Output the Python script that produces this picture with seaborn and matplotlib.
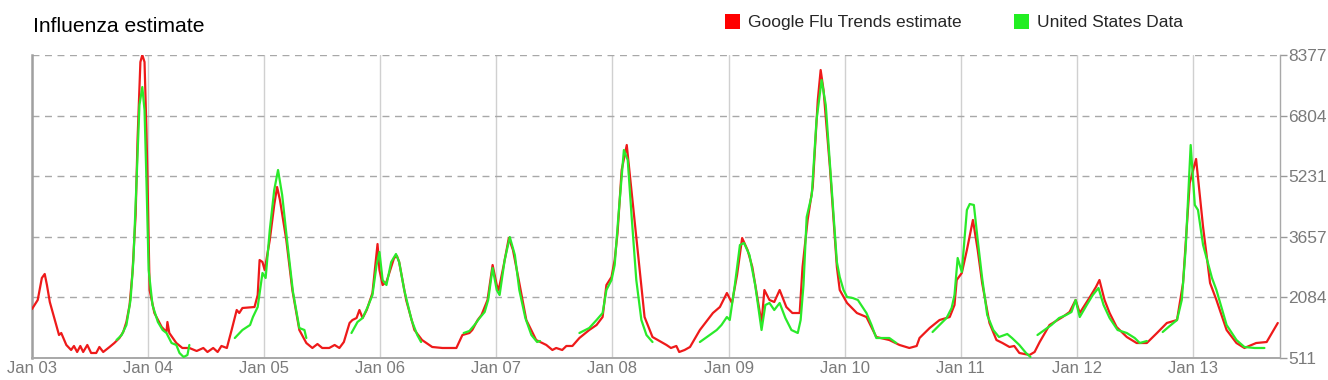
import matplotlib
matplotlib.use("Agg")
import matplotlib.pyplot as plt
import matplotlib.dates as mdates
from matplotlib.patches import Patch
import seaborn as sns
import pandas as pd

# ---------------- data ----------------
gft_dates = [
    "2003-01-01", "2003-01-19", "2003-02-01", "2003-02-10", "2003-02-17", "2003-02-26", "2003-03-12", "2003-03-27",
    "2003-04-03", "2003-04-19", "2003-05-04", "2003-05-13", "2003-05-23", "2003-06-02", "2003-06-11", "2003-06-24",
    "2003-07-06", "2003-07-22", "2003-08-01", "2003-08-13", "2003-09-02", "2003-09-17", "2003-10-03", "2003-10-15",
    "2003-10-25", "2003-11-04", "2003-11-13", "2003-11-23", "2003-11-29", "2003-12-08", "2003-12-14", "2003-12-21",
    "2003-12-27", "2003-12-30", "2004-01-06", "2004-01-21", "2004-02-13", "2004-02-28", "2004-03-02", "2004-03-08",
    "2004-03-30", "2004-04-18", "2004-05-10", "2004-06-02", "2004-06-23", "2004-07-06", "2004-07-24", "2004-08-07",
    "2004-08-19", "2004-09-05", "2004-09-20", "2004-10-06", "2004-10-14", "2004-10-24", "2004-12-01", "2004-12-11",
    "2004-12-17", "2004-12-26", "2005-01-02", "2005-01-18", "2005-02-01", "2005-02-10", "2005-02-19", "2005-03-11",
    "2005-03-30", "2005-04-21", "2005-05-13", "2005-06-01", "2005-06-17", "2005-07-02", "2005-07-24", "2005-08-10",
    "2005-08-25", "2005-09-08", "2005-09-26", "2005-10-05", "2005-10-18", "2005-10-27", "2005-11-06", "2005-11-19",
    "2005-12-07", "2005-12-17", "2005-12-23", "2005-12-29", "2006-01-08", "2006-01-20", "2006-02-01", "2006-02-13",
    "2006-02-22", "2006-03-01", "2006-03-23", "2006-04-18", "2006-05-12", "2006-06-13", "2006-07-15", "2006-08-05",
    "2006-08-28", "2006-09-16", "2006-10-08", "2006-10-17", "2006-11-03", "2006-11-15", "2006-12-04", "2006-12-20",
    "2007-01-02", "2007-01-08", "2007-01-24", "2007-02-09", "2007-02-22", "2007-03-14", "2007-04-05", "2007-05-06",
    "2007-06-07", "2007-06-26", "2007-07-08", "2007-07-27", "2007-08-09", "2007-08-28", "2007-09-19", "2007-10-20",
    "2007-11-12", "2007-12-01", "2007-12-13", "2007-12-29", "2008-01-08", "2008-01-17", "2008-01-30", "2008-02-15",
    "2008-03-04", "2008-03-26", "2008-04-11", "2008-05-06", "2008-06-19", "2008-07-03", "2008-07-20", "2008-07-29",
    "2008-08-15", "2008-09-01", "2008-10-02", "2008-11-12", "2008-12-04", "2008-12-26", "2009-01-11", "2009-01-27",
    "2009-02-12", "2009-03-01", "2009-03-16", "2009-04-14", "2009-04-23", "2009-05-09", "2009-05-24", "2009-06-10",
    "2009-07-01", "2009-07-20", "2009-08-12", "2009-08-21", "2009-09-06", "2009-09-22", "2009-10-08", "2009-10-17",
    "2009-10-26", "2009-11-15", "2009-12-07", "2009-12-16", "2010-01-08", "2010-02-08", "2010-03-10", "2010-04-10",
    "2010-05-21", "2010-06-22", "2010-07-23", "2010-08-15", "2010-08-24", "2010-09-25", "2010-10-26", "2010-11-27",
    "2010-12-12", "2010-12-19", "2011-01-04", "2011-01-20", "2011-02-08", "2011-02-23", "2011-03-09", "2011-04-01",
    "2011-04-23", "2011-05-12", "2011-06-03", "2011-06-18", "2011-07-04", "2011-08-05", "2011-08-21", "2011-09-06",
    "2011-10-07", "2011-11-17", "2011-12-09", "2011-12-28", "2012-01-10", "2012-02-11", "2012-03-01", "2012-03-12",
    "2012-03-28", "2012-04-13", "2012-05-05", "2012-06-06", "2012-07-07", "2012-08-08", "2012-09-09", "2012-10-10",
    "2012-11-11", "2012-11-30", "2012-12-21", "2013-01-10", "2013-02-01", "2013-02-23", "2013-03-15", "2013-04-16",
    "2013-05-17", "2013-06-11", "2013-07-18", "2013-08-20", "2013-09-24",
]
gft_values = [
    1783, 2017, 2588, 2692, 2406, 1965, 1549, 1108,
    1160, 849, 719, 823, 667, 823, 667, 849,
    641, 641, 797, 667, 797, 900, 1030, 1186,
    1446, 1887, 2718, 4223, 6170, 8195, 8377, 8195,
    6430, 5314, 2276, 1679, 1316, 1186, 1446, 1160,
    900, 771, 771, 693, 771, 667, 771, 667,
    823, 771, 1238, 1757, 1679, 1809, 1835, 2146,
    3055, 3003, 2795, 3574, 4483, 4950, 4613, 3574,
    2276, 1238, 900, 771, 874, 771, 771, 849,
    771, 926, 1420, 1497, 1549, 1757, 1549, 1757,
    2198, 3003, 3470, 2795, 2406, 2484, 2795, 3107,
    3159, 3003, 2017, 1238, 978, 797, 771, 771,
    771, 1108, 1160, 1238, 1497, 1627, 2017, 2925,
    2406, 2276, 2925, 3626, 3315, 2458, 1497, 978,
    849, 719, 771, 719, 823, 823, 1030, 1238,
    1368, 1575, 2406, 2614, 3055, 3756, 5391, 6040,
    4613, 2873, 1575, 1056, 849, 771, 823, 667,
    719, 797, 1238, 1679, 1835, 2198, 1939, 2666,
    3626, 3315, 2873, 1420, 2276, 2017, 1965, 2276,
    1835, 1679, 1679, 2873, 4094, 4950, 7209, 7987,
    7468, 5470, 2873, 2276, 1939, 1679, 1575, 1056,
    978, 849, 771, 823, 1030, 1290, 1497, 1575,
    1887, 2536, 2718, 3315, 4094, 3315, 2458, 1420,
    978, 900, 797, 823, 641, 589, 667, 926,
    1368, 1575, 1705, 2017, 1679, 2094, 2354, 2536,
    2017, 1679, 1316, 1056, 900, 900, 1160, 1420,
    1497, 2458, 5054, 5677, 3912, 2458, 2017, 1238,
    900, 771, 900, 926, 1420,
]

us_dates = [
    # 2003-04
    "2003-09-24", "2003-10-10", "2003-10-25", "2003-11-07", "2003-11-16", "2003-11-26", "2003-12-05", "2003-12-14",
    "2003-12-21", "2003-12-27", "2004-01-03", "2004-01-15", "2004-02-01", "2004-02-16", "2004-02-28", "2004-03-15",
    "2004-03-30", "2004-04-09", "2004-04-22", "2004-05-04", "2004-05-10",
    # 2004-05
    "2004-09-30", "2004-10-24", "2004-11-17", "2004-11-26", "2004-12-11", "2004-12-26", "2005-01-05", "2005-01-18",
    "2005-02-01", "2005-02-13", "2005-02-26", "2005-03-15", "2005-04-01", "2005-04-21", "2005-05-07", "2005-05-13",
    # 2005-06
    "2005-10-02", "2005-10-21", "2005-11-06", "2005-11-22", "2005-12-07", "2005-12-20", "2005-12-29", "2006-01-08",
    "2006-01-20", "2006-02-04", "2006-02-19", "2006-03-01", "2006-03-17", "2006-04-09", "2006-04-27", "2006-05-09",
    # 2006-07
    "2006-09-20", "2006-10-08", "2006-10-24", "2006-11-09", "2006-11-25", "2006-12-06", "2006-12-20", "2007-01-02",
    "2007-01-11", "2007-01-27", "2007-02-12", "2007-02-28", "2007-03-14", "2007-04-02", "2007-04-21", "2007-05-09",
    "2007-05-18",
    # 2007-08
    "2007-09-19", "2007-10-20", "2007-11-12", "2007-12-01", "2007-12-13", "2007-12-29", "2008-01-08", "2008-01-20",
    "2008-02-06", "2008-02-18", "2008-03-01", "2008-03-16", "2008-04-01", "2008-04-17", "2008-05-06",
    # 2008-10
    "2008-10-02", "2008-11-02", "2008-11-24", "2008-12-09", "2008-12-26", "2009-01-04", "2009-01-20", "2009-02-05",
    "2009-02-18", "2009-03-07", "2009-03-25", "2009-04-14", "2009-04-26", "2009-05-09", "2009-05-24", "2009-06-10",
    "2009-06-28", "2009-07-17", "2009-08-06", "2009-08-15", "2009-08-24", "2009-09-03", "2009-09-19", "2009-10-04",
    "2009-10-20", "2009-11-02", "2009-11-21", "2009-12-07", "2009-12-16", "2009-12-28", "2010-01-08", "2010-01-26",
    "2010-02-11", "2010-03-10", "2010-03-26", "2010-04-10", "2010-05-21", "2010-06-12",
    # 2010-11
    "2010-10-04", "2010-10-26", "2010-11-17", "2010-12-03", "2010-12-12", "2010-12-22", "2011-01-04", "2011-01-20",
    "2011-01-29", "2011-02-11", "2011-02-23", "2011-03-09", "2011-03-25", "2011-04-13", "2011-05-01", "2011-05-27",
    "2011-06-11", "2011-07-04", "2011-07-25", "2011-08-08",
    # 2011-12
    "2011-08-30", "2011-09-21", "2011-10-13", "2011-11-06", "2011-11-28", "2011-12-15", "2011-12-28", "2012-01-10",
    "2012-02-01", "2012-02-20", "2012-03-09", "2012-03-25", "2012-04-13", "2012-05-08", "2012-06-06", "2012-07-01",
    "2012-07-17", "2012-08-08",
    # 2012-13
    "2012-09-27", "2012-10-19", "2012-11-11", "2012-11-26", "2012-12-08", "2012-12-24", "2013-01-06", "2013-01-16",
    "2013-02-01", "2013-03-01", "2013-03-15", "2013-04-16", "2013-05-17", "2013-06-11", "2013-07-13", "2013-08-13",
]
us_values = [
    978, 1108, 1368, 2017, 3055, 5132, 7079, 7546,
    6949, 5132, 2795, 1887, 1446, 1238, 1160, 900,
    849, 641, 537, 589, 849,
    1030, 1238, 1368, 1575, 1835, 2718, 2588, 3834,
    4872, 5391, 4742, 3444, 2224, 1290, 1238, 1030,
    1160, 1446, 1549, 1835, 2146, 2925, 3263, 2536,
    2406, 3003, 3211, 3003, 2276, 1497, 1108, 926,
    1160, 1212, 1368, 1549, 1705, 2017, 2847, 2276,
    2146, 3055, 3652, 3185, 2276, 1549, 1108, 926,
    952,
    1160, 1290, 1497, 1679, 2276, 2536, 2925, 4223,
    5911, 5651, 4223, 2536, 1497, 1108, 926,
    926, 1108, 1238, 1368, 1575, 1497, 2406, 3444,
    3496, 3185, 2406, 1238, 1887, 1939, 1757, 1939,
    1549, 1238, 1160, 1497, 2406, 4171, 4742, 6689,
    7728, 7079, 4872, 3003, 2614, 2276, 2094, 2068,
    2017, 1679, 1368, 1030, 1030, 900,
    1186, 1368, 1549, 1809, 2146, 3107, 2744, 4353,
    4509, 4483, 3574, 2588, 1627, 1238, 1056, 1134,
    1030, 849, 641, 537,
    1108, 1238, 1368, 1549, 1627, 1705, 2017, 1575,
    1887, 2146, 2328, 1887, 1549, 1238, 1160, 1030,
    900, 952,
    1186, 1342, 1497, 2017, 3315, 6040, 4483, 4353,
    3444, 2588, 2276, 1368, 978, 797, 771, 771,
]
us_season_sizes = [21, 16, 16, 17, 15, 38, 20, 18, 16]
us_season_names = ["2003-04", "2004-05", "2005-06", "2006-07", "2007-08",
                   "2008-10", "2010-11", "2011-12", "2012-13"]

y_ticks = [511, 2084, 3657, 5231, 6804, 8377]

title_text = "Influenza estimate"
gft_label = "Google Flu Trends estimate"
us_label = "United States Data"

# ---------------- frames ----------------
gft = pd.DataFrame({"date": pd.to_datetime(gft_dates), "value": gft_values})
us_season = []
for name, n in zip(us_season_names, us_season_sizes):
    us_season += [name] * n
us = pd.DataFrame({"date": pd.to_datetime(us_dates), "value": us_values, "season": us_season})

# ---------------- plot ----------------
sns.set_theme(style="white")
plt.rcParams["font.family"] = ["Liberation Sans", "DejaVu Sans"]

RED = "#ee1a1a"
GREEN = "#2aea2a"
GRAY_TXT = "#7a7a7a"

fig = plt.figure(figsize=(13.28, 3.80), dpi=100)
ax = fig.add_axes([32 / 1328, 1 - 358 / 380, (1280 - 32) / 1328, (358 - 55) / 380])

sns.lineplot(data=gft, x="date", y="value", color=RED, linewidth=1.6, ax=ax, zorder=3)
sns.lineplot(data=us, x="date", y="value", units="season", estimator=None,
             color=GREEN, linewidth=1.6, ax=ax, zorder=4)

ax.set_xlim(pd.Timestamp("2003-01-01"), pd.Timestamp("2013-10-01"))
ax.set_ylim(y_ticks[0], y_ticks[-1])
ax.set_xlabel("")
ax.set_ylabel("")

ax.xaxis.set_major_locator(mdates.YearLocator())
ax.xaxis.set_major_formatter(mdates.DateFormatter("Jan %y"))
ax.set_yticks(y_ticks)
ax.set_yticklabels([str(v) for v in y_ticks])
ax.yaxis.tick_right()

ax.tick_params(axis="x", length=0, pad=2, labelsize=12, labelcolor=GRAY_TXT)
ax.tick_params(axis="y", which="major", right=True, left=False, length=5, width=1,
               color="#999999", pad=1, labelsize=12.5, labelcolor=GRAY_TXT)

ax.grid(axis="y", linestyle=(0, (5, 4)), color="#a8a8a8", linewidth=1.0, zorder=0)
ax.grid(axis="x", linestyle="-", color="#d0d0d0", linewidth=1.0, zorder=0)

ax.spines["top"].set_visible(False)
ax.spines["left"].set_color("#a0a0a0")
ax.spines["left"].set_linewidth(1.8)
ax.spines["right"].set_color("#a8a8a8")
ax.spines["right"].set_linewidth(1.0)
ax.spines["bottom"].set_color("#a8a8a8")
ax.spines["bottom"].set_linewidth(1.4)

fig.text(33 / 1328, 1 - 26 / 380, title_text, fontsize=15.2, color="black",
         ha="left", va="center")

handles = [Patch(facecolor="#ff0000", edgecolor="none", label=gft_label),
           Patch(facecolor="#22ee22", edgecolor="none", label=us_label)]
fig.legend(handles=handles, loc="center left", bbox_to_anchor=(725 / 1328, 1 - 22 / 380),
           ncol=2, frameon=False, fontsize=12.5, handlelength=0.87, handleheight=1.0,
           handletextpad=0.45, columnspacing=3.0, borderpad=0, borderaxespad=0)

fig.savefig("out.png", dpi=100)
